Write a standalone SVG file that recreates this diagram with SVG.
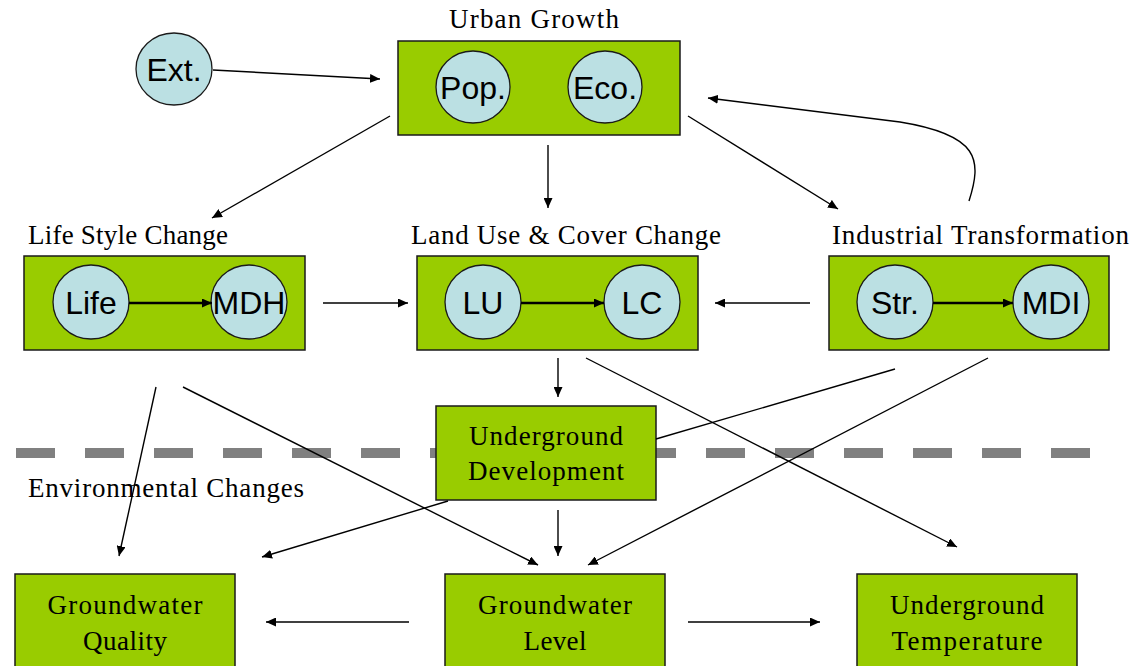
<svg xmlns="http://www.w3.org/2000/svg" width="1134" height="666" viewBox="0 0 1134 666">
<defs>
<marker id="ah" markerUnits="userSpaceOnUse" markerWidth="11" markerHeight="9" refX="10" refY="4.5" orient="auto">
<path d="M0,0 L10,4.5 L0,9 z" fill="#000"/>
</marker>
<style>
.box{fill:#99CC00;stroke:#1a1a1a;stroke-width:1.5}
.c{fill:#BBE0E3;stroke:#1a1a1a;stroke-width:1.3}
.ct{font-family:"Liberation Sans",Arial,sans-serif;font-size:32px;fill:#000;text-anchor:middle}
.st{font-family:"Liberation Serif","Times New Roman",serif;font-size:27px;fill:#000}
.mid{text-anchor:middle}
.cn{fill:none;stroke:#000;stroke-width:1.4;marker-end:url(#ah)}
.cn0{fill:none;stroke:#000;stroke-width:1.4}
.cin{fill:none;stroke:#000;stroke-width:2.6;marker-end:url(#ah)}
</style>
</defs>
<rect width="1134" height="666" fill="#fff"/>
<line id="divider" x1="16" y1="453" x2="1094" y2="453" stroke="#808080" stroke-width="10" stroke-dasharray="39 30"/>

<g id="urban-growth">
<text class="st" x="449" y="28" textLength="170">Urban Growth</text>
<rect class="box" x="398" y="41" width="282" height="94"/>
<ellipse class="c" cx="473" cy="87" rx="37" ry="36"/>
<text class="ct" x="473" y="99">Pop.</text>
<ellipse class="c" cx="605" cy="87" rx="37" ry="36"/>
<text class="ct" x="605" y="99">Eco.</text>
</g>

<g id="ext">
<ellipse class="c" cx="174" cy="69" rx="38" ry="36"/>
<text class="ct" x="174" y="81">Ext.</text>
</g>

<g id="life-style">
<text class="st" x="28" y="244" textLength="200">Life Style Change</text>
<rect class="box" x="24" y="256" width="281" height="94"/>
<ellipse class="c" cx="91" cy="302" rx="38" ry="37"/>
<text class="ct" x="91" y="314">Life</text>
<ellipse class="c" cx="249" cy="302" rx="38" ry="37"/>
<text class="ct" x="249" y="314">MDH</text>
</g>

<g id="land-use">
<text class="st" x="411" y="244" textLength="310">Land Use &amp; Cover Change</text>
<rect class="box" x="417" y="256" width="281" height="94"/>
<ellipse class="c" cx="483" cy="302" rx="38" ry="37"/>
<text class="ct" x="483" y="314">LU</text>
<ellipse class="c" cx="642" cy="302" rx="38" ry="37"/>
<text class="ct" x="642" y="314">LC</text>
</g>

<g id="industrial">
<text class="st" x="832" y="244" textLength="297">Industrial Transformation</text>
<rect class="box" x="829" y="256" width="280" height="94"/>
<ellipse class="c" cx="895" cy="302" rx="38" ry="37"/>
<text class="ct" x="895" y="314">Str.</text>
<ellipse class="c" cx="1051" cy="302" rx="38" ry="37"/>
<text class="ct" x="1051" y="314">MDI</text>
</g>

<g id="underground-development">
<rect class="box" x="436" y="406" width="220" height="94"/>
<text class="st mid" x="546" y="445" textLength="154">Underground</text>
<text class="st mid" x="546" y="480" textLength="156">Development</text>
</g>

<g id="env-label">
<text class="st" x="28" y="497" textLength="276">Environmental Changes</text>
</g>

<g id="groundwater-quality">
<rect class="box" x="15" y="574" width="220" height="100"/>
<text class="st mid" x="125" y="614" textLength="155">Groundwater</text>
<text class="st mid" x="125" y="650" textLength="84">Quality</text>
</g>

<g id="groundwater-level">
<rect class="box" x="445" y="574" width="220" height="100"/>
<text class="st mid" x="555" y="614" textLength="154">Groundwater</text>
<text class="st mid" x="555" y="650" textLength="63">Level</text>
</g>

<g id="underground-temperature">
<rect class="box" x="857" y="574" width="220" height="100"/>
<text class="st mid" x="967" y="614" textLength="154">Underground</text>
<text class="st mid" x="967" y="650" textLength="151">Temperature</text>
</g>

<g id="connectors">
<path class="cn" d="M213,70 L380,79"/>
<path class="cn" d="M390,116 L212,218"/>
<path class="cn" d="M548,145 L548,208"/>
<path class="cn" d="M688,116 L838,209"/>
<path class="cn" d="M969,201 C982,160 980,135 900,122 L708,98"/>
<path class="cin" d="M129,303 L212,303"/>
<path class="cin" d="M521,303 L604,303"/>
<path class="cin" d="M933,303 L1013,303"/>
<path class="cn" d="M323,303 L408,303"/>
<path class="cn" d="M810,303 L715,303"/>
<path class="cn" d="M558,358 L558,397"/>
<path class="cn" d="M156,387 L119,556"/>
<path class="cn" d="M183,387 L538,565"/>
<path class="cn" d="M586,358 L957,547"/>
<path class="cn0" d="M895,369 L656,439"/>
<path class="cn" d="M988,358 L588,565"/>
<path class="cn" d="M448,501 L262,557"/>
<path class="cn" d="M558,510 L558,556"/>
<path class="cn" d="M409,622 L266,622"/>
<path class="cn" d="M688,622 L820,622"/>
</g>
</svg>
